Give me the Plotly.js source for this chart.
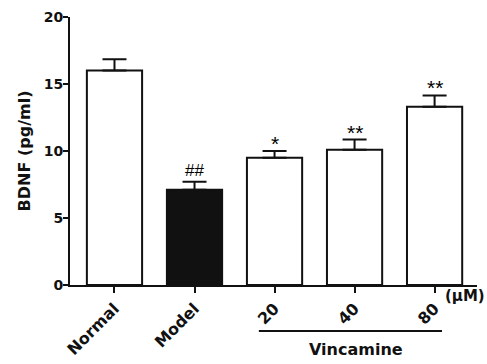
<!DOCTYPE html>
<html>
<head>
<meta charset="utf-8">
<script src="https://cdn.plot.ly/plotly-3.0.1.min.js"></script>
<style>html,body{margin:0;padding:0;background:#fff;}#chart{width:487px;height:364px;}</style>
</head>
<body>
<div id="chart"></div>
<script>
var categories = ["Normal", "Model", "20", "40", "80"];
var values = [16.0, 7.1, 9.5, 10.1, 13.3];
var errors = [0.85, 0.6, 0.5, 0.75, 0.85];
var sigMarks = ["", "##", "*", "**", "**"];
var barColors = ["#ffffff", "#111111", "#ffffff", "#ffffff", "#ffffff"];
var yTicks = [0, 5, 10, 15, 20];

var boldFont = "DejaVu Sans, Arial, sans-serif";
var idx = categories.map(function(c, i){ return i; });

var trace = {
  type: "bar",
  x: idx,
  y: values,
  marker: { color: barColors, line: { color: "#111", width: 2 } },
  error_y: {
    type: "data", array: errors, arrayminus: errors.map(function(){return 0;}),
    symmetric: false, color: "#111", thickness: 2, width: 12
  },
  hoverinfo: "skip"
};

var annotations = [];
idx.forEach(function(i){
  if (sigMarks[i]) {
    var hash = sigMarks[i] === "##";
    annotations.push({
      x: i, y: values[i] + errors[i], xref: "x", yref: "y",
      text: sigMarks[i], showarrow: false, yanchor: "bottom", xanchor: "center",
      yshift: hash ? 0 : -6,
      font: { family: "Liberation Sans, Arial, sans-serif", size: hash ? 17 : 21, color: "#000" }
    });
  }
});
annotations.push({
  xref: "paper", yref: "paper", x: 0.97, y: -0.041, xanchor: "center", yanchor: "middle",
  text: "<b>(μM)</b>", showarrow: false,
  font: { family: boldFont, size: 15, color: "#111" }
});
annotations.push({
  xref: "paper", yref: "paper", x: 0.703, y: -0.239, xanchor: "center", yanchor: "middle",
  text: "<b>Vincamine</b>", showarrow: false,
  font: { family: boldFont, size: 16, color: "#111" }
});

var layout = {
  width: 487, height: 364,
  margin: { l: 70, r: 10, t: 17, b: 79 },
  paper_bgcolor: "#fff", plot_bgcolor: "#fff",
  bargap: 0.31,
  showlegend: false,
  xaxis: {
    type: "linear", range: [-0.556, 4.53],
    tickvals: idx, ticktext: categories.map(function(c){ return "<b>" + c + "</b>"; }),
    showline: true, linecolor: "#111", linewidth: 2,
    ticks: "outside", ticklen: 6, tickwidth: 2, tickcolor: "#111",
    tickangle: -45, showgrid: false, zeroline: false,
    tickfont: { family: boldFont, size: 16, color: "#111" }
  },
  yaxis: {
    range: [0, 20], tickvals: yTicks, ticktext: yTicks.map(function(v){ return "<b>" + v + "</b>"; }),
    showline: true, linecolor: "#111", linewidth: 2,
    ticks: "outside", ticklen: 5, tickwidth: 2, tickcolor: "#111",
    ticklabelstandoff: -3,
    showgrid: false, zeroline: false,
    tickfont: { family: boldFont, size: 14, color: "#111" },
    title: { text: "<b>BDNF (pg/ml)</b>", standoff: 9, font: { family: boldFont, size: 16, color: "#111" } }
  },
  shapes: [{
    type: "line", xref: "paper", yref: "paper", x0: 0.464, x1: 0.914, y0: -0.172, y1: -0.172,
    line: { color: "#111", width: 2 }
  }],
  annotations: annotations
};

Plotly.newPlot("chart", [trace], layout, { displayModeBar: false, staticPlot: true });
</script>
</body>
</html>
